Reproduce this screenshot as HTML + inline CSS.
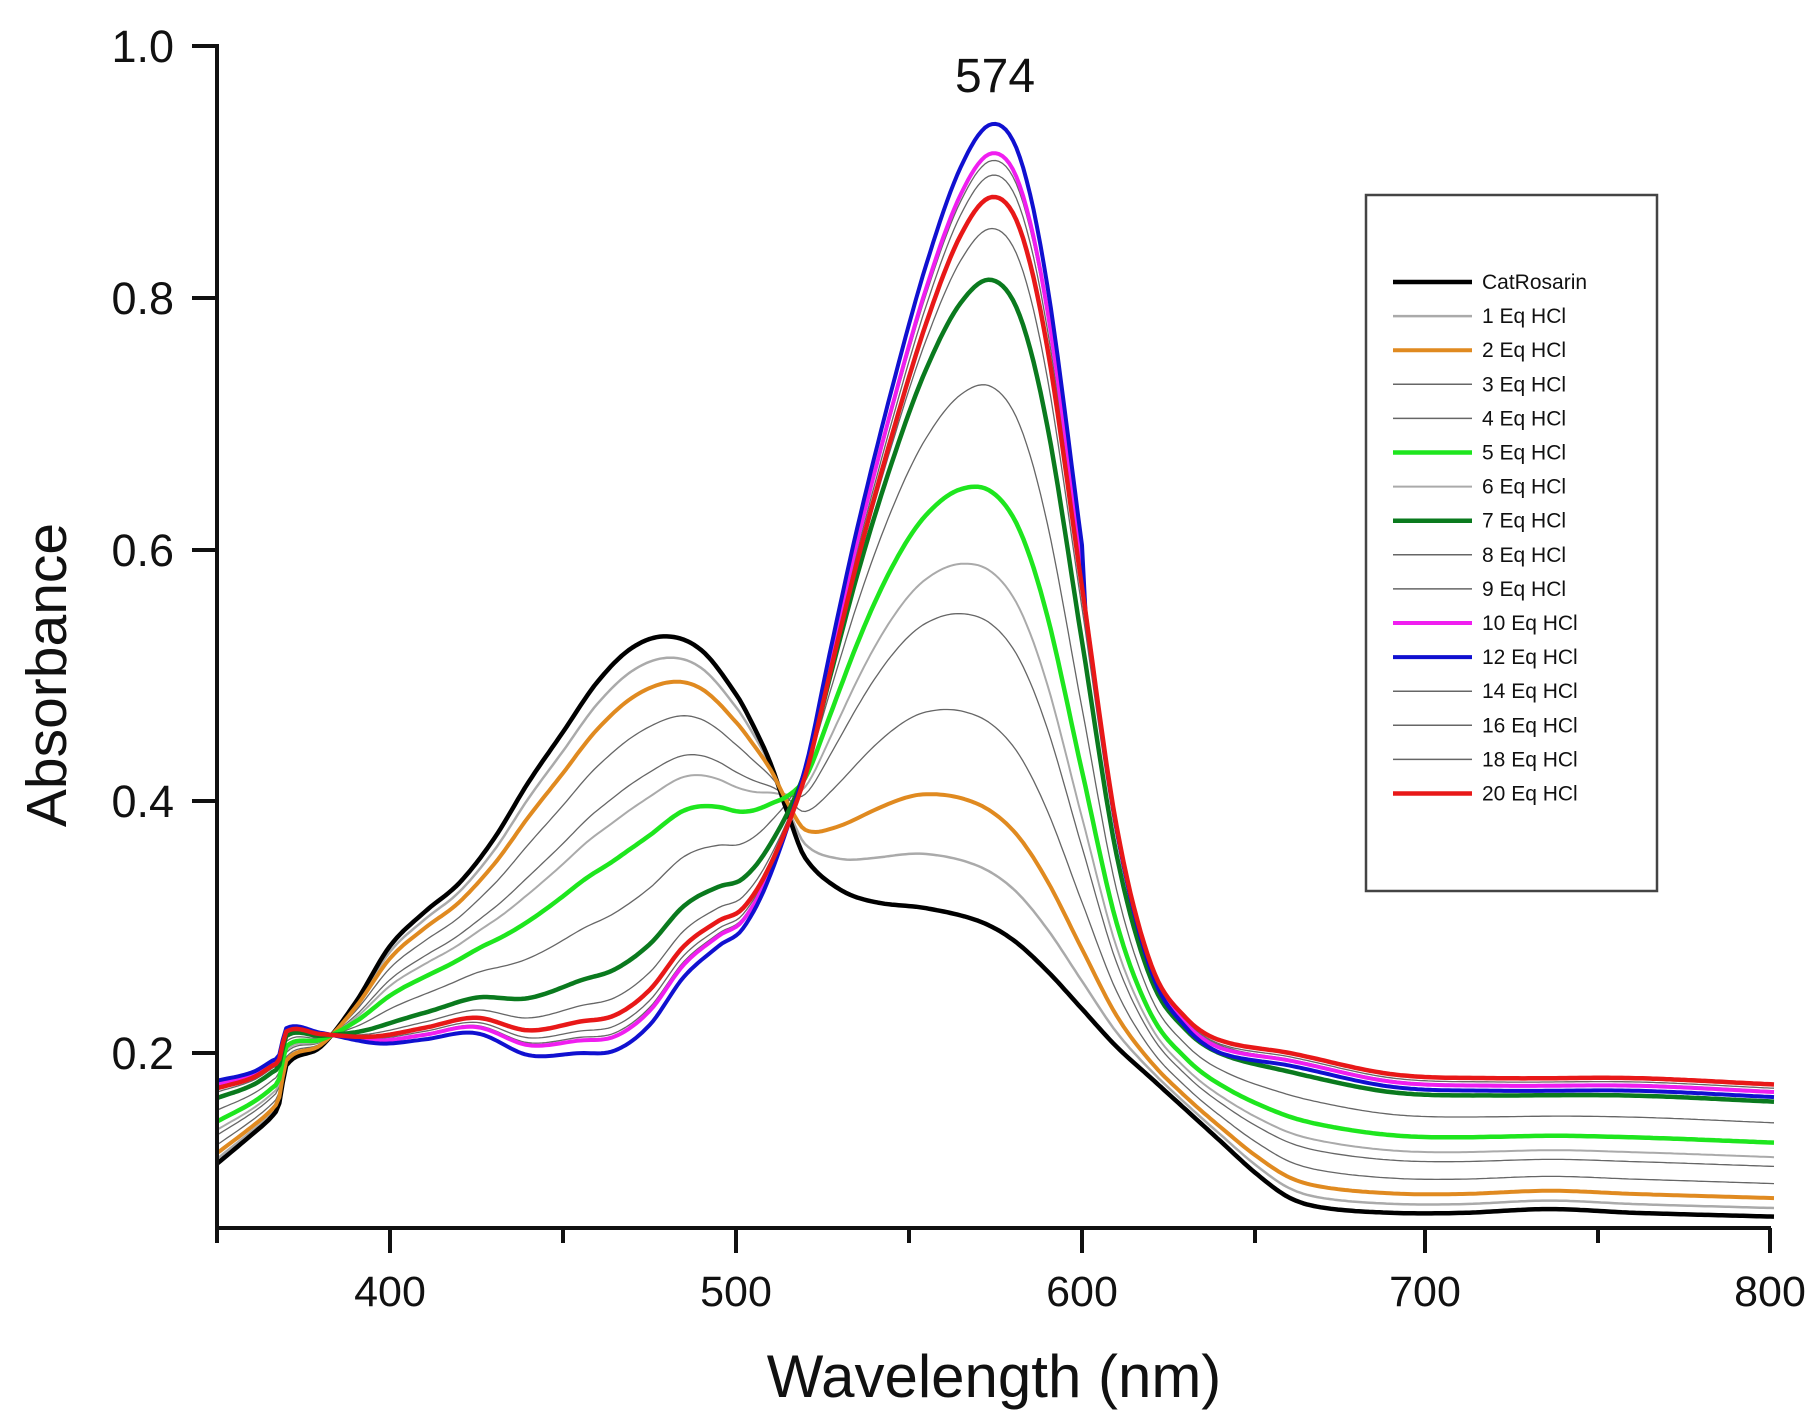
<!DOCTYPE html>
<html><head><meta charset="utf-8"><style>
html,body{margin:0;padding:0;background:#fff;}
svg{display:block;}
text{font-family:"Liberation Sans",Arial,sans-serif;fill:#111;}
</style></head><body>
<svg id="s" width="1820" height="1424" viewBox="0 0 1820 1424" xmlns="http://www.w3.org/2000/svg">
<rect width="1820" height="1424" fill="#fff"/>
<g id="curves" fill="none" stroke-linejoin="round"></g>
<path d="M217,44 V1228 H1771" fill="none" stroke="#111" stroke-width="4"/>
<g stroke="#111" stroke-width="4">
<line x1="192" y1="46" x2="217" y2="46"/><line x1="192" y1="298" x2="217" y2="298"/>
<line x1="192" y1="550" x2="217" y2="550"/><line x1="192" y1="801" x2="217" y2="801"/>
<line x1="192" y1="1053" x2="217" y2="1053"/>
<line x1="217" y1="1228" x2="217" y2="1243"/><line x1="390" y1="1228" x2="390" y2="1253"/>
<line x1="563" y1="1228" x2="563" y2="1243"/><line x1="736" y1="1228" x2="736" y2="1253"/>
<line x1="909" y1="1228" x2="909" y2="1243"/><line x1="1082" y1="1228" x2="1082" y2="1253"/>
<line x1="1255" y1="1228" x2="1255" y2="1243"/><line x1="1425" y1="1228" x2="1425" y2="1253"/>
<line x1="1598" y1="1228" x2="1598" y2="1243"/><line x1="1770" y1="1228" x2="1770" y2="1253"/>
</g>
<g font-size="45" text-anchor="end">
<text x="174" y="62">1.0</text><text x="174" y="314">0.8</text><text x="174" y="566">0.6</text>
<text x="174" y="817">0.4</text><text x="174" y="1069">0.2</text>
</g>
<g font-size="43" text-anchor="middle">
<text x="390" y="1306">400</text><text x="736" y="1306">500</text><text x="1082" y="1306">600</text>
<text x="1425" y="1306">700</text><text x="1770" y="1306">800</text>
</g>
<text x="994" y="1397" font-size="60" text-anchor="middle">Wavelength (nm)</text>
<text transform="translate(66,675) rotate(-90)" font-size="57" text-anchor="middle">Absorbance</text>
<text x="995" y="92" font-size="48" text-anchor="middle">574</text>
<rect x="1366" y="195" width="291" height="696" fill="#fff" stroke="#444" stroke-width="2.5"/>
<g id="legend"></g>
</svg>
<script>
const X=w=>217+(w-350)*3.46, Y=a=>46+(1-a)*1258.75;
const black=[[350,.112],[360,.135],[366,.15],[368,.16],[370,.19],[380,.205],[390,.24],[400,.285],[410,.312],[420,.335],[430,.37],[440,.415],[450,.455],[460,.495],[470,.522],[480,.531],[490,.52],[500,.485],[505,.46],[510,.43],[515,.39],[520,.355],[530,.33],[540,.32],[555,.315],[570,.305],[580,.29],[590,.265],[600,.235],[610,.205],[620,.18],[630,.155],[640,.13],[650,.105],[660,.085],[670,.077],[690,.073],[710,.073],[735,.076],[760,.073],[800,.07]];
const red=[[350,.172],[360,.18],[366,.19],[368,.195],[370,.217],[380,.215],[395,.213],[410,.22],[425,.228],[440,.218],[455,.225],[465,.23],[475,.25],[485,.285],[495,.305],[502,.315],[510,.35],[520,.42],[527,.5],[535,.59],[545,.69],[555,.78],[565,.85],[574,.88],[582,.855],[590,.76],[600,.57],[610,.38],[620,.27],[630,.228],[640,.21],[660,.2],[690,.183],[720,.18],[760,.18],[800,.175]];
function interp(p,w){for(let i=0;i<p.length-1;i++){if(w<=p[i+1][0]){
 const p0=p[Math.max(i-1,0)],p1=p[i],p2=p[i+1],p3=p[Math.min(i+2,p.length-1)];
 const h=p2[0]-p1[0],t=(w-p1[0])/h;
 const m1=(p2[1]-p0[1])/(p2[0]-p0[0]||1)*h, m2=(p3[1]-p1[1])/(p3[0]-p1[0]||1)*h;
 const t2=t*t,t3=t2*t;
 return (2*t3-3*t2+1)*p1[1]+(t3-2*t2+t)*m1+(-2*t3+3*t2)*p2[1]+(t3-t2)*m2;}}return p[p.length-1][1];}
const series=[
["CatRosarin",0,"#000",4.5],["1 Eq HCl",.065,"#aaa",2.5],["2 Eq HCl",.14,"#e08a20",4],["3 Eq HCl",.25,"#666",1.3],
["4 Eq HCl",.38,"#666",1.3],["5 Eq HCl",.56,"#1ee61e",4.5],["6 Eq HCl",.45,"#aaa",2],["7 Eq HCl",.87,"#0a7a1e",4.5],
["8 Eq HCl",.71,"#666",1.3],["9 Eq HCl",.95,"#666",1.3],["10 Eq HCl",1.06,"#f01ef0",4],["12 Eq HCl",1.1,"#1010d0",4],
["14 Eq HCl",1.03,"#666",1.3],["16 Eq HCl",1.05,"#666",1.3],["18 Eq HCl",1.0,"#666",1.3],["20 Eq HCl",1,"#e81818",4.5]];
const order=[1,3,4,6,8,9,12,13,14,0,2,5,7,10,11,15];
let g=document.getElementById('curves'),h='';
for(const i of order){const [n,f,c,sw]=series[i];let d='';
 for(let w=350;w<=800;w+=1){let a=(1-f)*interp(black,w)+f*interp(red,w);
  if(f>0&&f<1){a+=4*f*(1-f)*0.06*Math.exp(-Math.pow((w-545)/20,2)/2);}
  if(f>1 && w>600){a=interp(red,w)-(f-1)*0.1*(w>640?1:(w-600)/40);}
  d+=(w==350?'M':'L')+X(w).toFixed(1)+','+Y(a).toFixed(1);}
 h+=`<path d="${d}" stroke="${c}" stroke-width="${sw}"/>`;}
g.innerHTML=h;
let L=document.getElementById('legend'),lh='';
series.forEach((s,k)=>{const y=282+k*34.1;
 lh+=`<line x1="1393" y1="${y}" x2="1472" y2="${y}" stroke="${s[2]}" stroke-width="${Math.max(s[3],1.5)}"/>`;
 lh+=`<text x="1482" y="${y+7}" font-size="21">${s[0]}</text>`;});
L.innerHTML=lh;
</script>
</body></html>
